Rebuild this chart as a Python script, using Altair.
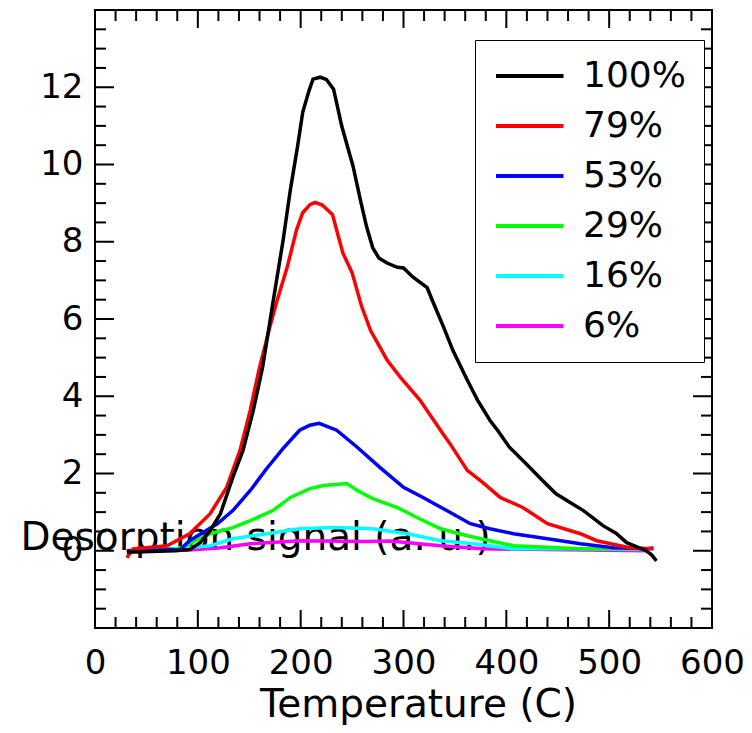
import altair as alt
import pandas as pd

# ---- data ----
series_names = ["100%", "79%", "53%", "29%", "16%", "6%"]
series_colors = ["#000000", "#ff0000", "#0000ff", "#00ff00", "#00ffff", "#ff00ff"]

t_100 = [31, 78, 92, 102, 112, 122, 134, 144, 154, 163, 173, 183, 190, 197, 202, 208, 212, 219, 225, 232, 240, 251, 258, 264, 270, 276, 284, 294, 300, 309, 323, 329, 339, 348, 362, 372, 384, 392, 403, 419, 434, 448, 462, 475, 494, 507, 517, 527, 536, 541, 546]
v_100 = [-0.04, 0, 0.03, 0.2, 0.52, 0.96, 1.9, 2.6, 3.64, 4.75, 6.42, 8.05, 9.35, 10.47, 11.35, 11.9, 12.21, 12.26, 12.2, 11.95, 10.99, 9.95, 9.09, 8.4, 7.85, 7.58, 7.45, 7.34, 7.32, 7.09, 6.81, 6.42, 5.79, 5.19, 4.42, 3.9, 3.38, 3.1, 2.68, 2.26, 1.85, 1.48, 1.25, 1.04, 0.65, 0.45, 0.21, 0.1, 0.0, -0.1, -0.26]

t_79 = [31, 37, 70, 92, 112, 128, 141, 151, 160, 170, 177, 187, 196, 202, 209, 214, 221, 231, 241, 250, 259, 268, 284, 297, 316, 338, 345, 362, 377, 394, 416, 440, 472, 488, 520, 537, 543]
v_79 = [-0.18, 0.05, 0.13, 0.44, 0.96, 1.64, 2.6, 3.64, 4.75, 5.79, 6.47, 7.35, 8.31, 8.75, 8.96, 9.02, 8.95, 8.7, 7.71, 7.2, 6.35, 5.7, 4.94, 4.49, 3.9, 3.04, 2.78, 2.08, 1.77, 1.38, 1.12, 0.7, 0.44, 0.26, 0.08, 0.05, 0.08]

t_53 = [31, 83, 92, 119, 134, 151, 167, 183, 199, 209, 218, 235, 255, 277, 300, 319, 342, 365, 384, 407, 440, 472, 504, 543]
v_53 = [0, 0.03, 0.26, 0.7, 1.04, 1.56, 2.13, 2.65, 3.12, 3.25, 3.3, 3.12, 2.68, 2.16, 1.64, 1.38, 1.04, 0.7, 0.57, 0.44, 0.31, 0.18, 0.08, 0.05]

t_29 = [31, 80, 112, 134, 151, 173, 190, 209, 222, 245, 255, 270, 294, 313, 336, 362, 384, 407, 472, 537]
v_29 = [0, 0.03, 0.44, 0.6, 0.78, 1.04, 1.38, 1.61, 1.69, 1.74, 1.56, 1.35, 1.12, 0.86, 0.57, 0.39, 0.26, 0.13, 0.05, 0.05]

t_16 = [31, 76, 112, 134, 167, 199, 232, 270, 304, 336, 368, 407, 472, 537]
v_16 = [0, 0.05, 0.13, 0.31, 0.44, 0.57, 0.6, 0.57, 0.44, 0.26, 0.18, 0.05, 0.05, 0.03]

t_6 = [31, 92, 122, 151, 199, 265, 287, 336, 377, 440, 537]
v_6 = [0, 0.02, 0.08, 0.18, 0.26, 0.24, 0.25, 0.13, 0.05, 0.03, 0.0]

x_labels = [0, 100, 200, 300, 400, 500, 600]
y_labels = [0, 2, 4, 6, 8, 10, 12]
x_major = [0, 100, 200, 300, 400, 500, 600]
x_minor = [v for v in range(0, 601, 20) if v % 100 != 0]
y_major = [-2, 0, 2, 4, 6, 8, 10, 12, 14]
y_minor = [v / 2 for v in range(-4, 29) if v % 4 != 0]

# ---- build tables ----
rows = []
for name, ts, vs in [("6%", t_6, v_6), ("16%", t_16, v_16), ("29%", t_29, v_29),
                     ("53%", t_53, v_53), ("79%", t_79, v_79), ("100%", t_100, v_100)]:
    for i, (t, v) in enumerate(zip(ts, vs)):
        rows.append({"series": name, "T": t, "signal": v, "i": i})
df = pd.DataFrame(rows)

W, H = 617, 618
FONT = "DejaVu Sans"
xscale = alt.Scale(domain=[0, 600], nice=False, zero=False)
yscale = alt.Scale(domain=[-2, 14], nice=False, zero=False)

xaxis = alt.Axis(
    values=x_labels, ticks=False, domain=False, grid=False,
    labelFontSize=34, labelFont=FONT, labelColor="black", labelPadding=18,
    labelFlush=False, labelOverlap=False,
    title="Temperature (C)", titleFont=FONT, titleFontSize=39,
    titleFontWeight="normal", titleColor="black",
    titleX=323, titleY=88, titleBaseline="alphabetic")
yaxis = alt.Axis(
    values=y_labels, ticks=False, domain=False, grid=False,
    labelFontSize=34, labelFont=FONT, labelColor="black", labelPadding=12,
    labelFlush=False, labelOverlap=False,
    title="Desorption signal (a. u.)", titleFont=FONT, titleFontSize=39,
    titleFontWeight="normal", titleColor="black", titleAngle=0,
    titleAlign="left", titleBaseline="alphabetic", titleX=-75, titleY=539)

lines = alt.Chart(df).mark_line(strokeWidth=3.5, clip=True).encode(
    x=alt.X("T:Q", scale=xscale, axis=xaxis),
    y=alt.Y("signal:Q", scale=yscale, axis=yaxis),
    color=alt.Color("series:N", title=None,
                    scale=alt.Scale(domain=series_names, range=series_colors),
                    legend=alt.Legend(orient="none", legendX=380, legendY=30,
                                      direction="vertical",
                                      symbolType="M-1,0H3.5", symbolSize=900,
                                      symbolStrokeWidth=4,
                                      labelFontSize=36, labelFont=FONT,
                                      labelColor="black",
                                      labelOffset=54, rowPadding=14, padding=18,
                                      strokeColor="black", fillColor="white")),
    order=alt.Order("i:Q"),
)

def xticks(vals, length, top):
    d = pd.DataFrame({"T": vals})
    if top:
        yy, yy2 = 0, length
    else:
        yy, yy2 = H, H - length
    return alt.Chart(d).mark_rule(color="black", strokeWidth=2).encode(
        x=alt.X("T:Q", scale=xscale, axis=xaxis),
        y=alt.value(yy), y2=alt.value(yy2))

def yticks(vals, length, right):
    d = pd.DataFrame({"signal": vals})
    if right:
        xx, xx2 = W - length, W
    else:
        xx, xx2 = 0, length
    return alt.Chart(d).mark_rule(color="black", strokeWidth=2).encode(
        y=alt.Y("signal:Q", scale=yscale, axis=yaxis),
        x=alt.value(xx), x2=alt.value(xx2))

tick_layers = [
    xticks(x_major, 18, False), xticks(x_minor, 11, False),
    xticks(x_major, 18, True), xticks(x_minor, 11, True),
    yticks(y_major, 19, False), yticks(y_minor, 11, False),
    yticks(y_major, 19, True), yticks(y_minor, 11, True),
]

chart = alt.layer(lines, *tick_layers).properties(
    width=W, height=H,
    autosize=alt.AutoSizeParams(type="none"),
    padding={"left": 87, "top": 2, "right": 32, "bottom": 97},
).configure_view(stroke="black", strokeWidth=2)

chart.save("out.html", embed_options={"renderer": "svg", "actions": False})
